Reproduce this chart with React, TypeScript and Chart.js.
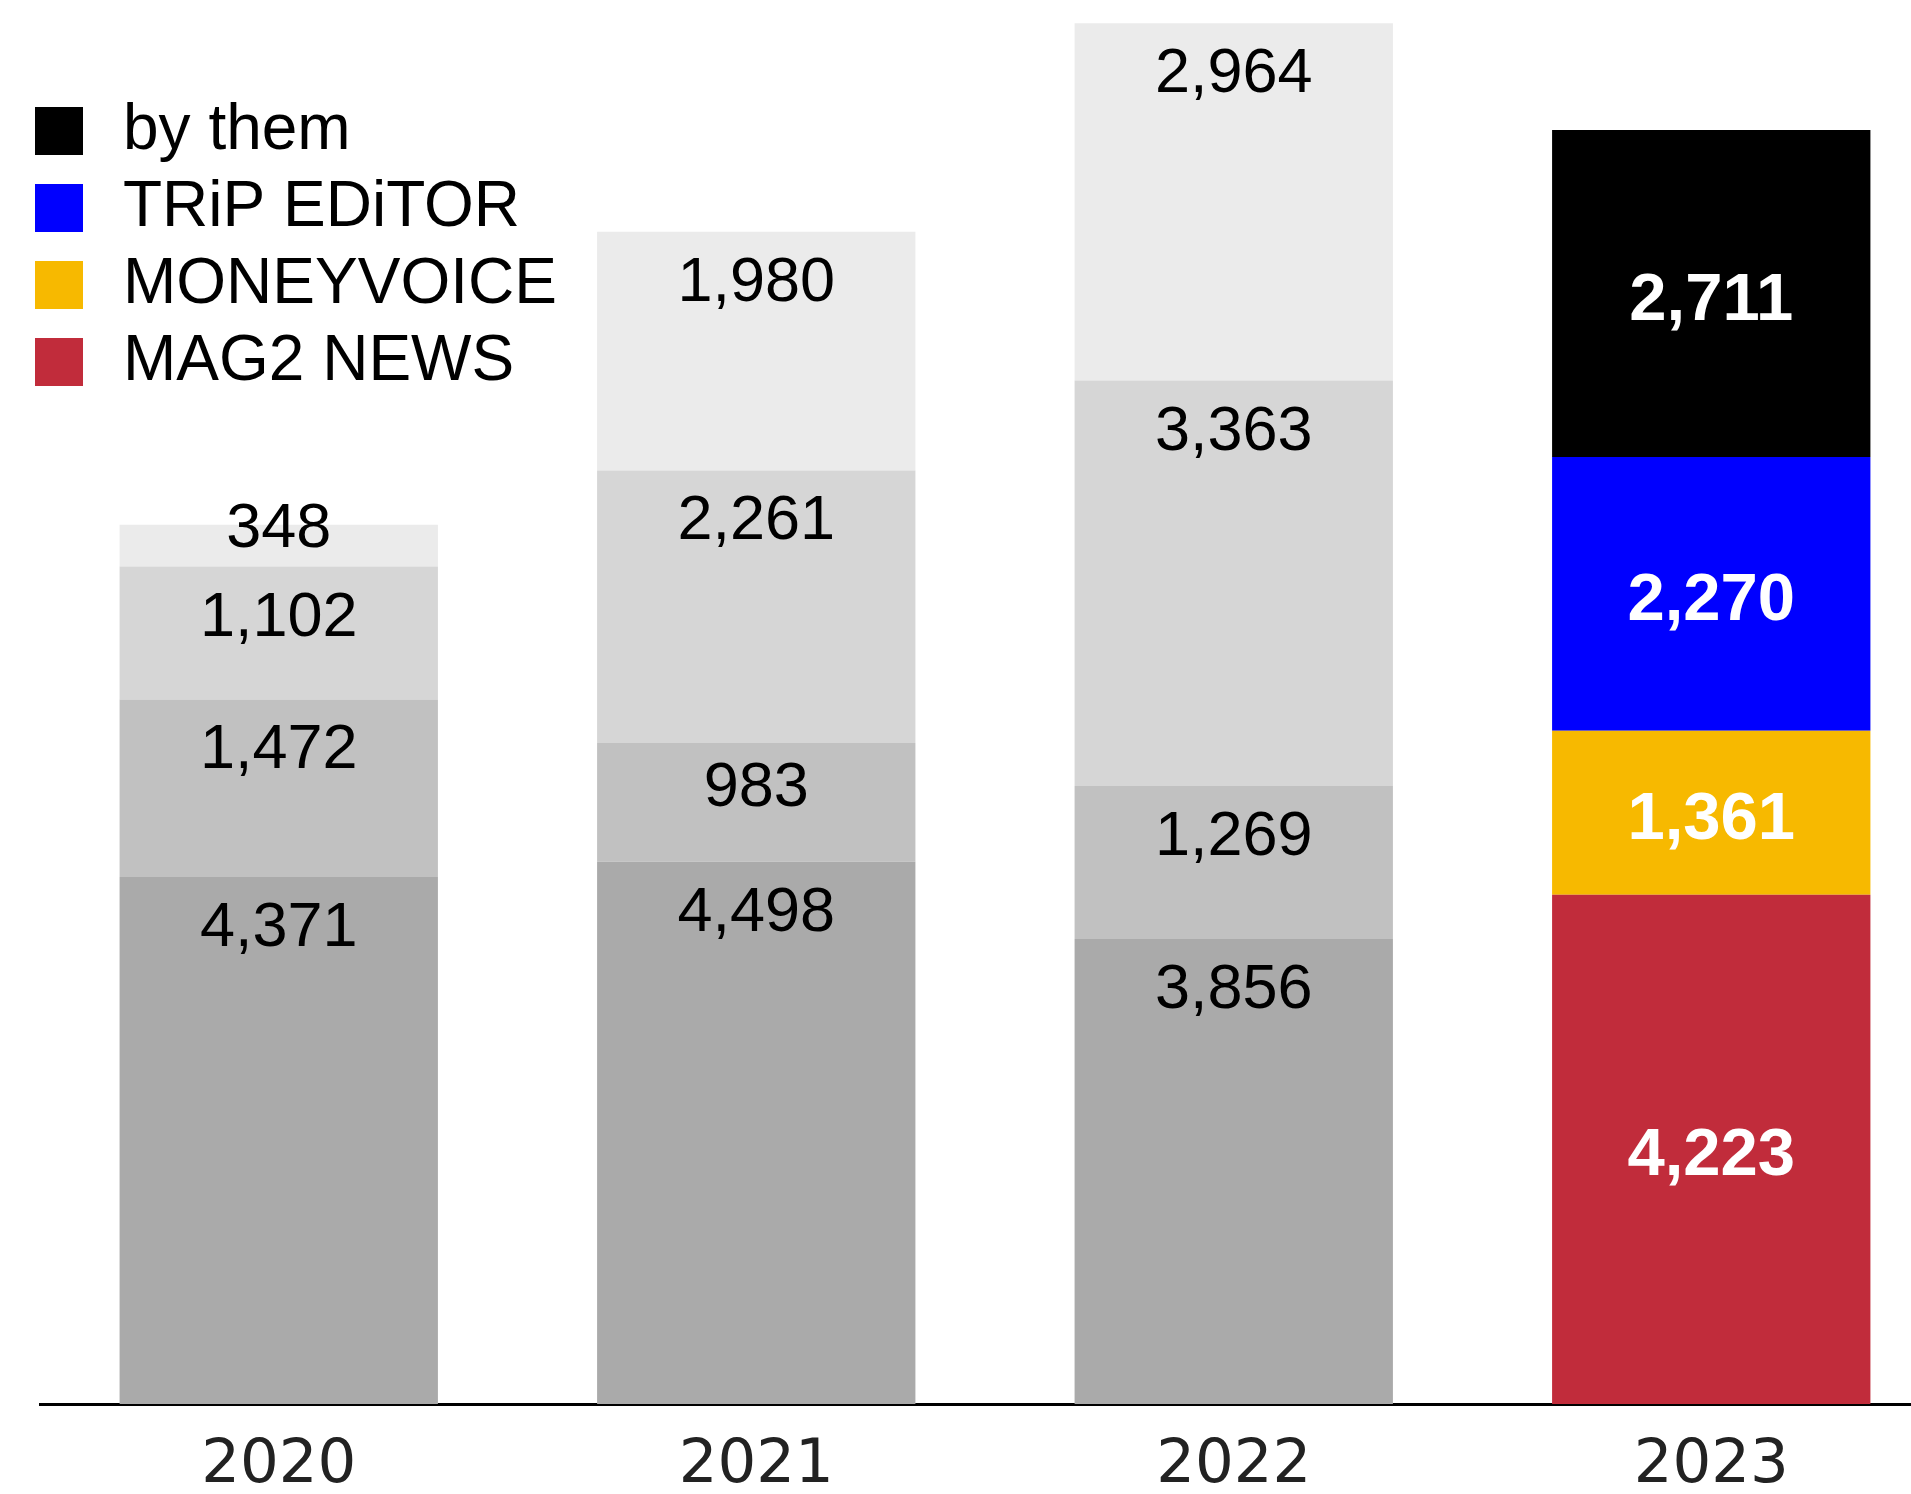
import { useEffect, useRef } from 'react';
import { Chart, registerables } from 'chart.js';

Chart.register(...registerables);

const categories = ['2020', '2021', '2022', '2023'];
const seriesNames = ['MAG2 NEWS', 'MONEYVOICE', 'TRiP EDiTOR', 'by them'];
const mag2News = [4371, 4498, 3856, 4223];
const moneyVoice = [1472, 983, 1269, 1361];
const tripEditor = [1102, 2261, 3363, 2270];
const byThem = [348, 1980, 2964, 2711];
const seriesValues = [mag2News, moneyVoice, tripEditor, byThem];
const highlightColors = ['#c12c3b', '#f7b900', '#0000ff', '#000000'];
const greyColors = ['#aaaaaa', '#c1c1c1', '#d6d6d6', '#ebebeb'];
const highlightIndex = 3;

const valueLabels = {
  id: 'valueLabels',
  afterDatasetsDraw(chart: any) {
    const ctx = chart.ctx;
    ctx.save();
    chart.data.datasets.forEach((ds: any, di: number) => {
      const meta = chart.getDatasetMeta(di);
      meta.data.forEach((bar: any, j: number) => {
        const { x, y, base } = bar.getProps(['x', 'y', 'base'], true);
        const top = Math.min(y, base);
        const bottom = Math.max(y, base);
        const h = bottom - top;
        const text = Number(ds.data[j]).toLocaleString('en-US');
        ctx.textAlign = 'center';
        ctx.textBaseline = 'alphabetic';
        if (j === highlightIndex) {
          const size = 67;
          ctx.font = `bold ${size}px "Liberation Sans", Arial, sans-serif`;
          ctx.fillStyle = '#ffffff';
          ctx.fillText(text, x, (top + bottom) / 2 + (0.716 * size) / 2 + 2);
        } else {
          ctx.font = '63px "Liberation Sans", Arial, sans-serif';
          ctx.fillStyle = '#000000';
          ctx.fillText(text, x, top + Math.min(69, h * 0.53));
        }
      });
    });
    ctx.restore();
  },
};

const legendPlacer = {
  id: 'legendPlacer',
  afterLayout(chart: any) {
    const lg = chart.legend;
    if (!lg) return;
    lg.left = 14;
    lg.top = 86;
    lg.right = lg.left + lg.width;
    lg.bottom = chart.chartArea.bottom;
  },
};

export default function App() {
  const ref = useRef<HTMLCanvasElement | null>(null);

  useEffect(() => {
    document.body.style.margin = '0';
    const canvas = ref.current;
    if (!canvas) return;
    const datasets = seriesNames.map((name, i) => ({
      label: name,
      data: seriesValues[i],
      backgroundColor: categories.map((_, j) => (j === highlightIndex ? highlightColors[i] : greyColors[i])),
      borderWidth: 0,
      barPercentage: 2 / 3,
      categoryPercentage: 1,
    }));
    const chart = new Chart(canvas, {
      type: 'bar',
      data: { labels: categories, datasets },
      plugins: [valueLabels, legendPlacer],
      options: {
        animation: false,
        responsive: false,
        layout: { padding: { left: 40, right: 0, top: 0, bottom: 0 } },
        plugins: {
          tooltip: { enabled: false },
          legend: {
            position: 'chartArea' as any,
            align: 'start',
            labels: {
              boxWidth: 64,
              boxHeight: 64,
              padding: 13,
              color: '#000000',
              font: { family: '"Liberation Sans", Arial, sans-serif', size: 64 },
              generateLabels: () =>
                seriesNames
                  .map((name, i) => ({
                    text: name,
                    fillStyle: highlightColors[i],
                    strokeStyle: '#ffffff',
                    lineWidth: 16,
                    hidden: false,
                    datasetIndex: i,
                  }))
                  .reverse(),
            },
          },
        },
        scales: {
          x: {
            stacked: true,
            grid: { display: false, drawTicks: false },
            border: { display: true, color: '#000000', width: 3 },
            ticks: {
              color: '#222222',
              padding: 32,
              font: { family: '"DejaVu Sans", sans-serif', size: 61, lineHeight: 1 },
            },
          },
          y: {
            stacked: true,
            display: false,
            min: 0,
            max: 11644,
          },
        },
      },
    });
    return () => chart.destroy();
  }, []);

  return (
    <div style={{ position: 'fixed', left: 0, top: 0, width: 1911, height: 1494, overflow: 'hidden', background: '#fff' }}>
      <canvas ref={ref} width={1950} height={1529} style={{ width: 1950, height: 1529, display: 'block' }} />
    </div>
  );
}
